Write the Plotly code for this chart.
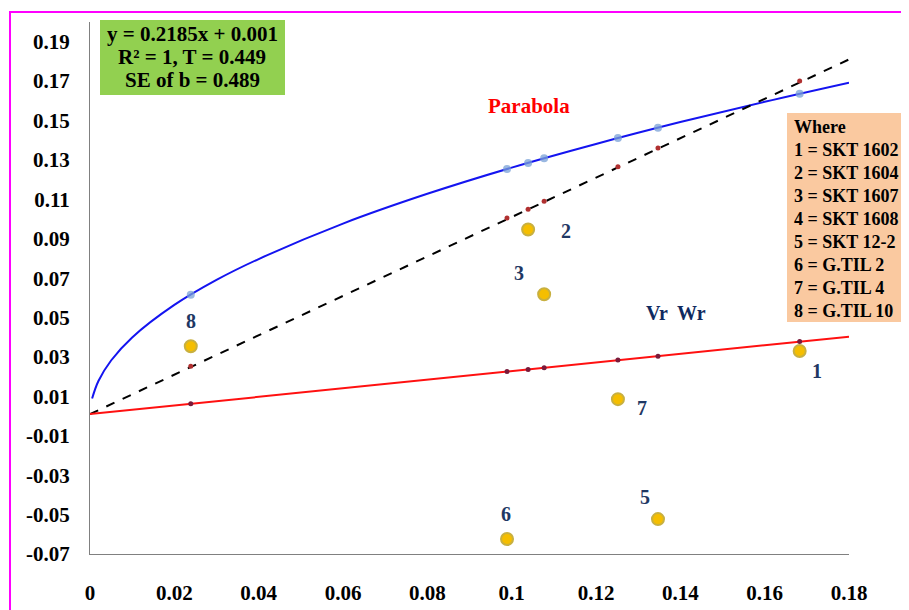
import plotly.graph_objects as go

# ---------------- data ----------------
parent_labels = ["1", "2", "3", "5", "6", "7", "8"]
vr = [0.1683, 0.1039, 0.1077, 0.1347, 0.0989, 0.1252, 0.0239]
wr = [0.0330, 0.0947, 0.0618, -0.0523, -0.0624, 0.0086, 0.0354]

# fitted values on regression line
wr_fit = [0.0378, 0.0237, 0.0245, 0.0304, 0.0226, 0.0284, 0.0062]
reg_x = [0.0, 0.18]
reg_y = [0.0010, 0.0403]

# unit slope reference line (dashed)
unit_x = [0.0, 0.18]
unit_y = [0.0010, 0.1810]
unit_pts = [0.1700, 0.1050, 0.1090, 0.1360, 0.1005, 0.1265, 0.0253]

# limiting parabola
para_x = [0.0005, 0.002, 0.005, 0.01, 0.02, 0.03, 0.04, 0.06, 0.08, 0.10, 0.12, 0.14, 0.16, 0.18]
para_y = [0.0089, 0.0178, 0.0282, 0.0399, 0.0564, 0.0691, 0.0797, 0.0977, 0.1128, 0.1261, 0.1381, 0.1492, 0.1595, 0.1692]
para_pts = [0.1636, 0.1285, 0.1309, 0.1463, 0.1254, 0.1411, 0.0616]

x_ticks = [0, 0.02, 0.04, 0.06, 0.08, 0.1, 0.12, 0.14, 0.16, 0.18]
x_tick_text = ["0", "0.02", "0.04", "0.06", "0.08", "0.1", "0.12", "0.14", "0.16", "0.18"]
y_ticks = [-0.07, -0.05, -0.03, -0.01, 0.01, 0.03, 0.05, 0.07, 0.09, 0.11, 0.13, 0.15, 0.17, 0.19]
y_tick_text = ["-0.07", "-0.05", "-0.03", "-0.01", "0.01", "0.03", "0.05", "0.07",
               "0.09", "0.11", "0.13", "0.15", "0.17", "0.19"]

eq_lines = ["y = 0.2185x + 0.001", "R² = 1, T = 0.449", "SE of b = 0.489"]
key_lines = ["Where", "1 = SKT 1602", "2 = SKT 1604", "3 = SKT 1607", "4 = SKT 1608",
             "5 = SKT 12-2", "6 = G.TIL 2", "7 = G.TIL 4", "8 = G.TIL 10"]

# label offsets in pixels (dx, dy up)
label_offsets = {"1": (17, -20), "2": (38, -2), "3": (-25, 21), "5": (-13, 22),
                 "6": (-1, 25), "7": (24, -9), "8": (0, 25)}

SERIF = "Liberation Serif, Times New Roman, serif"
NAVY = "#1F3864"

# ---------------- figure ----------------
fig = go.Figure()

fig.add_trace(go.Scatter(x=para_x, y=para_y, mode="lines", line=dict(color="#1414F0", width=2, shape="spline"),
                         hoverinfo="skip"))
fig.add_trace(go.Scatter(x=unit_x, y=unit_y, mode="lines", line=dict(color="black", width=2, dash="dash"),
                         hoverinfo="skip"))
fig.add_trace(go.Scatter(x=reg_x, y=reg_y, mode="lines", line=dict(color="#FF1010", width=2),
                         hoverinfo="skip"))
fig.add_trace(go.Scatter(x=vr, y=para_pts, mode="markers",
                         marker=dict(size=8, color="rgba(120,160,215,0.75)", line=dict(width=0))))
fig.add_trace(go.Scatter(x=vr, y=unit_pts, mode="markers",
                         marker=dict(size=5, color="#B03030", line=dict(width=0))))
fig.add_trace(go.Scatter(x=vr, y=wr_fit, mode="markers",
                         marker=dict(size=5, color="#7A1A3A", line=dict(width=0))))
fig.add_trace(go.Scatter(x=vr, y=wr, mode="markers",
                         marker=dict(size=12, color="#F5BE00", line=dict(color="#C8B040", width=2))))

annotations = []
for lab, x, y in zip(parent_labels, vr, wr):
    dx, dy = label_offsets[lab]
    annotations.append(dict(x=x, y=y, xref="x", yref="y", text="<b>%s</b>" % lab, showarrow=False,
                            xanchor="center", yanchor="middle",
                            xshift=dx, yshift=dy, font=dict(family=SERIF, size=20, color=NAVY)))


def px(x):
    return (x - 90) / 759.0


def py(y):
    return (554 - y) / 532.0


annotations.append(dict(x=px(529), y=py(106), xref="paper", yref="paper", text="<b>Parabola</b>",
                        showarrow=False, xanchor="center", yanchor="middle",
                        font=dict(family=SERIF, size=21, color="#FF0000")))
annotations.append(dict(x=px(676), y=py(313), xref="paper", yref="paper", text="<b>Vr  Wr</b>",
                        showarrow=False, xanchor="center", yanchor="middle",
                        font=dict(family=SERIF, size=20, color="#0F2A60")))

for i, t in enumerate(eq_lines):
    annotations.append(dict(x=px(192), y=py(34 + 23 * i), xref="paper", yref="paper", text="<b>%s</b>" % t,
                            showarrow=False, xanchor="center", yanchor="middle",
                            font=dict(family=SERIF, size=21, color="black")))
for i, t in enumerate(key_lines):
    annotations.append(dict(x=px(792), y=py(127 + 23 * i), xref="paper", yref="paper", text="<b>%s</b>" % t,
                            showarrow=False, xanchor="left", yanchor="middle",
                            font=dict(family=SERIF, size=18, color="black")))

shapes = [
    dict(type="rect", xref="paper", yref="paper", x0=px(100), x1=px(285), y0=py(95), y1=py(20),
         fillcolor="#92D050", line=dict(width=0), layer="below"),
    dict(type="rect", xref="paper", yref="paper", x0=px(787), x1=px(940), y0=py(322), y1=py(113),
         fillcolor="#FAC9A0", line=dict(width=0), layer="below"),
    dict(type="rect", xref="paper", yref="paper", x0=px(10), x1=px(960), y0=py(660), y1=py(12),
         fillcolor="rgba(0,0,0,0)", line=dict(color="#FF00FF", width=2)),
]

# page body has an 8px margin: figure is 901x602 so it ends at the window edge,
# plot area lands at x 90..849, y 22..554 on screen
fig.update_layout(
    width=901, height=602,
    margin=dict(l=82, r=60, t=14, b=56),
    paper_bgcolor="white", plot_bgcolor="white",
    showlegend=False,
    annotations=annotations,
    shapes=shapes,
    xaxis=dict(range=[0, 0.18], tickvals=x_ticks, ticktext=x_tick_text, showgrid=False, zeroline=False,
               showline=True, linecolor="#808080", linewidth=1, ticks="", ticklabelstandoff=20,
               automargin=False,
               tickfont=dict(family=SERIF, size=21, color="black", weight="bold")),
    yaxis=dict(range=[-0.07, 0.2], tickvals=y_ticks, ticktext=y_tick_text, showgrid=False, zeroline=False,
               showline=True, linecolor="#808080", linewidth=1, ticks="", ticklabelstandoff=15,
               automargin=False,
               tickfont=dict(family=SERIF, size=21, color="black", weight="bold")),
)

fig.write_html("out.html")
